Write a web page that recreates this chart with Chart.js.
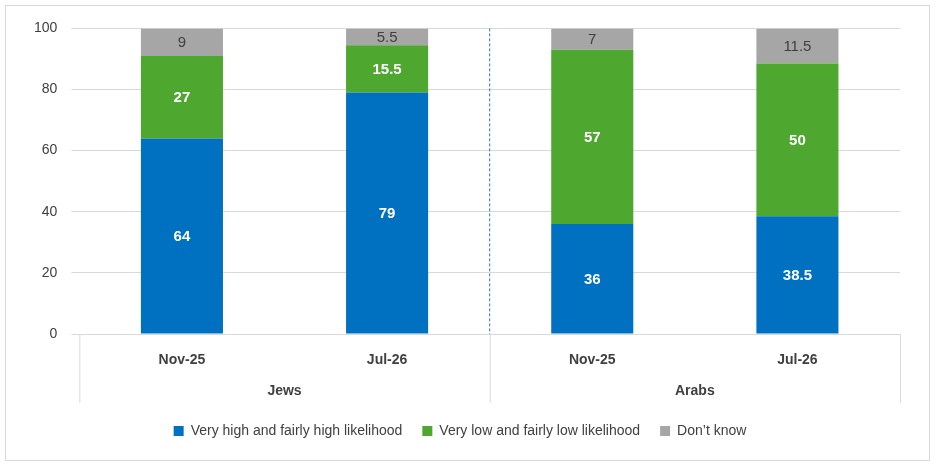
<!DOCTYPE html>
<html>
<head>
<script src="https://cdn.jsdelivr.net/npm/chart.js@4/dist/chart.umd.min.js"></script>
<style>
  body { margin: 0; background: #fff; }
  #wrap { position: absolute; left: 5px; top: 5px; width: 925px; height: 456px; border: 1px solid #d9d9d9; box-sizing: border-box; }
</style>
</head>
<body>
<div id="wrap"><canvas id="c"></canvas></div>
<script>
// chart data
const categories = ['Nov-25', 'Jul-26', 'Nov-25', 'Jul-26'];
const groups = ['Jews', 'Arabs'];
const highLikelihood = [64, 79, 36, 38.5];
const lowLikelihood = [27, 15.5, 57, 50];
const dontKnow = [9, 5.5, 7, 11.5];

const font = "'Liberation Sans', Arial, sans-serif";

// draws the value labels plus the two-level category axis
const extrasPlugin = {
    id: 'extras',
    afterDatasetsDraw(chart) {
        const ctx = chart.ctx;
        ctx.save();
        ctx.textAlign = 'center';
        ctx.textBaseline = 'middle';
        chart.data.datasets.forEach((ds, i) => {
            chart.getDatasetMeta(i).data.forEach((bar, j) => {
                const mid = (bar.y + bar.base) / 2;
                ctx.fillStyle = i === 2 ? '#404040' : '#ffffff';
                ctx.font = (i === 2 ? '' : 'bold ') + '15px ' + font;
                ctx.fillText(ds.data[j], bar.x, mid + 1);
            });
        });
        const x = chart.scales.x, y = chart.scales.y;
        const sep = (x.getPixelForValue(1) + x.getPixelForValue(2)) / 2;
        // dashed separator inside plot
        ctx.strokeStyle = '#2e75b6';
        ctx.lineWidth = 1;
        ctx.setLineDash([3, 2]);
        ctx.beginPath();
        ctx.moveTo(sep, y.top);
        ctx.lineTo(sep, y.bottom);
        ctx.stroke();
        ctx.setLineDash([]);
        // group axis lines
        ctx.strokeStyle = '#d9d9d9';
        const bottom = y.bottom + 69;
        [x.left, sep, x.right].forEach(px => {
            ctx.beginPath();
            ctx.moveTo(px + 0.5, y.bottom);
            ctx.lineTo(px + 0.5, bottom);
            ctx.stroke();
        });
        ctx.fillStyle = '#404040';
        ctx.font = 'bold 14px ' + font;
        ctx.fillText(groups[0], (x.left + sep) / 2, y.bottom + 57);
        ctx.fillText(groups[1], (sep + x.right) / 2, y.bottom + 57);
        ctx.restore();
    }
};

new Chart(document.getElementById('c'), {
    type: 'bar',
    data: {
        labels: categories,
        datasets: [{
            label: 'Very high and fairly high likelihood',
            data: highLikelihood,
            backgroundColor: '#0070C0'
        }, {
            label: 'Very low and fairly low likelihood',
            data: lowLikelihood,
            backgroundColor: '#4EA72E'
        }, {
            label: 'Don\u2019t know',
            data: dontKnow,
            backgroundColor: '#A6A6A6'
        }]
    },
    options: {
        responsive: true,
        maintainAspectRatio: false,
        animation: false,
        layout: { padding: { left: 14, right: 29, top: 21, bottom: 12 } },
        datasets: { bar: { barPercentage: 0.4, categoryPercentage: 1 } },
        scales: {
            x: {
                stacked: true,
                grid: { display: false },
                border: { color: '#d9d9d9' },
                ticks: { color: '#404040', font: { family: font, size: 14, weight: 'bold' }, padding: 10 },
                afterFit(scale) { scale.height = 70; }
            },
            y: {
                stacked: true,
                min: 0,
                max: 100,
                ticks: { stepSize: 20, color: '#404040', font: { family: font, size: 14 }, padding: 14 },
                grid: { color: '#d9d9d9' },
                border: { display: false }
            }
        },
        plugins: {
            legend: {
                position: 'bottom',
                labels: { boxWidth: 10, boxHeight: 10, color: '#404040', font: { family: font, size: 14 }, padding: 20 }
            },
            tooltip: { enabled: false }
        }
    },
    plugins: [extrasPlugin]
});
</script>
</body>
</html>
